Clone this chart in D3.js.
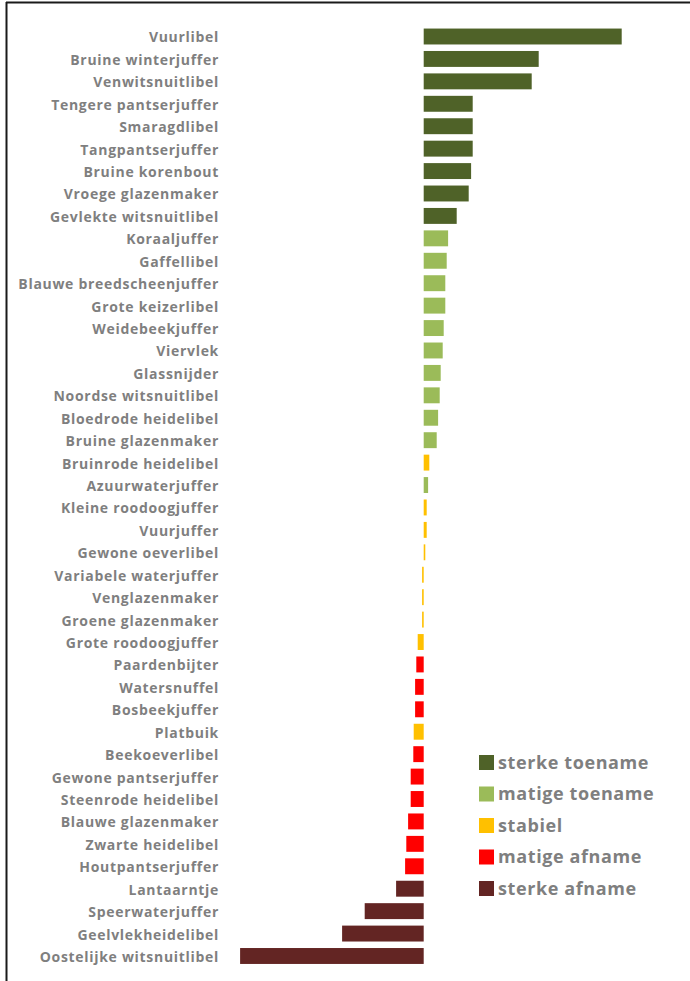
<!DOCTYPE html>
<html>
<head>
<meta charset="utf-8">
<script src="https://cdn.jsdelivr.net/npm/d3@7"></script>
<style>
  html, body { margin: 0; padding: 0; background: #fff; }
  svg { display: block; }
</style>
</head>
<body>
<svg id="chart" width="690" height="981"></svg>
<script>
// Soorten (species), gesorteerd van sterkste toename naar sterkste afname
const species = [
  "Vuurlibel", "Bruine winterjuffer", "Venwitsnuitlibel", "Tengere pantserjuffer",
  "Smaragdlibel", "Tangpantserjuffer", "Bruine korenbout", "Vroege glazenmaker",
  "Gevlekte witsnuitlibel", "Koraaljuffer", "Gaffellibel", "Blauwe breedscheenjuffer",
  "Grote keizerlibel", "Weidebeekjuffer", "Viervlek", "Glassnijder",
  "Noordse witsnuitlibel", "Bloedrode heidelibel", "Bruine glazenmaker",
  "Bruinrode heidelibel", "Azuurwaterjuffer", "Kleine roodoogjuffer", "Vuurjuffer",
  "Gewone oeverlibel", "Variabele waterjuffer", "Venglazenmaker", "Groene glazenmaker",
  "Grote roodoogjuffer", "Paardenbijter", "Watersnuffel", "Bosbeekjuffer", "Platbuik",
  "Beekoeverlibel", "Gewone pantserjuffer", "Steenrode heidelibel", "Blauwe glazenmaker",
  "Zwarte heidelibel", "Houtpantserjuffer", "Lantaarntje", "Speerwaterjuffer",
  "Geelvlekheidelibel", "Oostelijke witsnuitlibel"
];

// Trendwaarde per soort
const trend = [
  99, 57.5, 54, 24.5,
  24.5, 24.5, 23.7, 22.5,
  16.5, 12.2, 11.5, 10.8,
  10.8, 10, 9.5, 8.5,
  8, 7.2, 6.5,
  2.8, 2.2, 1.5, 1.5,
  0.8, -0.8, -0.8, -0.8,
  -3, -3.7, -4.3, -4.3, -5,
  -5.2, -6.5, -6.5, -7.8,
  -8.7, -9.3, -13.8, -29.5,
  -40.8, -91.8
];

// Trendklasse per soort (index in trendClasses)
const trendClass = [
  0, 0, 0, 0,
  0, 0, 0, 0,
  0, 1, 1, 1,
  1, 1, 1, 1,
  1, 1, 1,
  2, 1, 2, 2,
  2, 2, 2, 2,
  2, 3, 3, 3, 2,
  3, 3, 3, 3,
  3, 3, 4, 4,
  4, 4
];

const trendClasses = ["sterke toename", "matige toename", "stabiel", "matige afname", "sterke afname"];
const classColors = ["#4F6228", "#9BBB59", "#FFC000", "#FF0000", "#632523"];

const rows = species.map((name, i) => ({ name, value: trend[i], cls: trendClass[i] }));

const svg = d3.select("#chart");
const font = "'Open Sans', Lato, sans-serif";

// Kader (links en boven)
svg.append("line").attr("x1", 6.5).attr("x2", 6.5).attr("y1", 2).attr("y2", 981)
  .attr("stroke", "#1a1a1a").attr("stroke-width", 2);
svg.append("line").attr("x1", 6).attr("x2", 690).attr("y1", 2.5).attr("y2", 2.5)
  .attr("stroke", "#1a1a1a").attr("stroke-width", 2);

const x = d3.scaleLinear().domain([-100, 100]).range([223.7, 623.7]);
const y = d3.scaleBand().domain(species).range([25.3, 967.2])
  .paddingInner(0.29).paddingOuter(0.145);

const color = d3.scaleOrdinal().domain(d3.range(trendClasses.length)).range(classColors);

// Balken
svg.append("g").selectAll("rect").data(rows).join("rect")
  .attr("x", d => x(Math.min(0, d.value)))
  .attr("y", d => y(d.name))
  .attr("width", d => Math.abs(x(d.value) - x(0)))
  .attr("height", y.bandwidth())
  .attr("fill", d => color(d.cls));

// Soortnamen
const yAxis = d3.axisLeft(y).tickSize(0).tickPadding(0);
const gy = svg.append("g").attr("transform", "translate(219,1.5)").call(yAxis);
gy.select(".domain").remove();
gy.selectAll("text")
  .attr("fill", "#7F7F7F")
  .attr("font-family", font)
  .attr("font-weight", "bold")
  .attr("font-size", 14)
  .attr("letter-spacing", 0.7);

// Legenda
const legend = svg.append("g").attr("transform", "translate(479,755)");
const items = legend.selectAll("g").data(trendClasses).join("g")
  .attr("transform", (d, i) => `translate(0,${i * 31.5})`);
items.append("rect").attr("width", 15).attr("height", 15)
  .attr("fill", (d, i) => classColors[i]);
items.append("text").attr("x", 19).attr("y", 7.5).attr("dy", "0.35em")
  .attr("fill", "#7F7F7F")
  .attr("font-family", font)
  .attr("font-weight", "bold")
  .attr("font-size", 18)
  .attr("letter-spacing", 0.6)
  .text(d => d);
</script>
</body>
</html>
